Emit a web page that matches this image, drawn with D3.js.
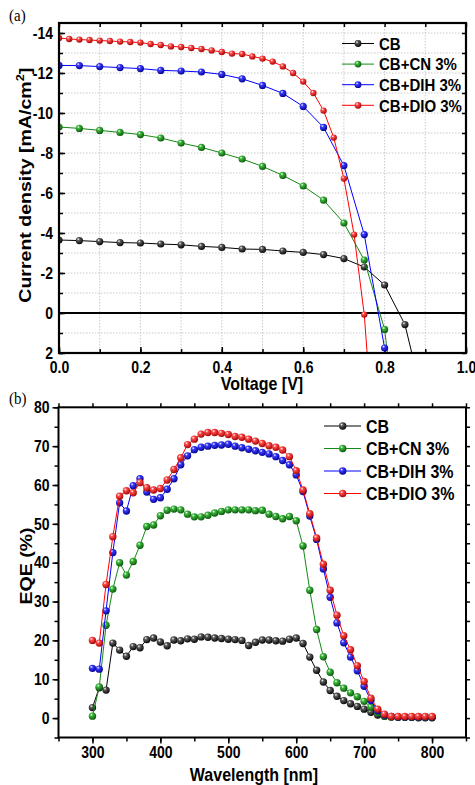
<!DOCTYPE html>
<html>
<head>
<meta charset="utf-8">
<script src="https://cdn.jsdelivr.net/npm/d3@7"></script>
<style>
  body { margin: 0; background: #fff; }
  svg text { font-family: "Liberation Sans", Arial, sans-serif; font-weight: bold; fill: #000; }
</style>
</head>
<body>
<div id="chart"></div>
<script>
// ---- Data: panel (a) J-V curves ----
const voltage05 = [0, 0.05, 0.1, 0.15, 0.2, 0.25, 0.3, 0.35, 0.4, 0.45, 0.5, 0.55, 0.6, 0.65, 0.7, 0.75, 0.8, 0.85, 0.9];
const voltage025 = [0, 0.025, 0.05, 0.075, 0.1, 0.125, 0.15, 0.175, 0.2, 0.225, 0.25, 0.275, 0.3, 0.325, 0.35, 0.375,
    0.4, 0.425, 0.45, 0.475, 0.5, 0.525, 0.55, 0.575, 0.6, 0.625, 0.65, 0.675, 0.7, 0.725, 0.75, 0.775];
const jvCB = [-3.65, -3.62, -3.57, -3.52, -3.5, -3.45, -3.41, -3.33, -3.28, -3.2, -3.18, -3.1, -3.03, -2.92, -2.72, -2.3, -1.4, 0.58, 4.8];
const jvCN = [-9.3, -9.23, -9.13, -9.03, -8.92, -8.75, -8.5, -8.28, -8.0, -7.7, -7.33, -6.88, -6.35, -5.64, -4.5, -2.65, 0.82, 9.3];
const jvDIH = [-12.38, -12.37, -12.32, -12.27, -12.22, -12.13, -12.1, -12.05, -11.93, -11.71, -11.38, -10.98, -10.33, -9.28, -7.37, -3.92, 1.75, 8];
const jvDIO = [-13.75, -13.70, -13.67, -13.65, -13.62, -13.6, -13.57, -13.55, -13.52, -13.45, -13.40, -13.33, -13.30, -13.25, -13.20, -13.13,
    -13.05, -12.97, -12.95, -12.83, -12.72, -12.57, -12.33, -12.0, -11.57, -11.0, -10.12, -8.77, -6.72, -3.92, 0.08, 6.9];
const jvXTicks = [0, 0.2, 0.4, 0.6, 0.8, 1.0];
const jvYTicks = [-14, -12, -10, -8, -6, -4, -2, 0, 2];

// ---- Data: panel (b) EQE spectra ----
const wavelength = [300, 310, 320, 330, 340, 350, 360, 370, 380, 390, 400, 410, 420, 430, 440, 450, 460, 470, 480, 490, 500,
    510, 520, 530, 540, 550, 560, 570, 580, 590, 600, 610, 620, 630, 640, 650, 660, 670, 680, 690, 700,
    710, 720, 730, 740, 750, 760, 770, 780, 790, 800];
const eqeCB = [2.7, 7.8, 7.2, 19.3, 17.5, 15.9, 18.4, 18.1, 20.2, 20.6, 19.6, 18.6, 20.1, 19.9, 20.4, 20.3, 20.9, 20.8, 20.6, 20.5, 20.3,
    20.2, 20.0, 18.7, 19.5, 20.1, 20.1, 19.9, 19.8, 20.3, 20.6, 19.2, 15.7, 12.3, 9.3, 7.1, 5.6, 4.5, 3.7, 3.0, 2.3,
    1.5, 0.8, 0.5, 0.3, 0.2, 0.2, 0.2, 0.1, 0.1, 0.1];
const eqeCN = [0.5, 8.0, 23.9, 33.2, 40.0, 36.8, 40.3, 44.5, 49.3, 49.7, 52.1, 53.5, 53.8, 53.6, 52.5, 51.8, 51.8, 52.2, 52.8, 53.2, 53.6,
    53.6, 53.6, 53.6, 53.4, 53.5, 52.5, 51.9, 51.3, 51.9, 50.8, 44.3, 32.9, 22.8, 15.8, 11.8, 9.1, 7.7, 6.5, 5.5, 4.3,
    2.8, 1.3, 0.5, 0.3, 0.2, 0.2, 0.2, 0.2, 0.2, 0.2];
const eqeDIH = [12.8, 12.6, 27.6, 42.6, 55.4, 53.3, 59.8, 61.6, 58.2, 56.3, 56.7, 58.9, 61.6, 65.2, 67.5, 69.1, 69.7, 70.0, 70.2, 70.3, 70.5,
    70.0, 69.6, 69.2, 68.8, 68.4, 68.0, 67.3, 66.3, 65.2, 62.6, 58.3, 52.0, 46.0, 38.4, 31.1, 24.5, 19.4, 15.7, 12.2, 8.2,
    4.5, 1.9, 0.8, 0.4, 0.3, 0.3, 0.3, 0.3, 0.3, 0.3];
const eqeDIO = [20.0, 19.3, 34.4, 46.7, 57.1, 58.5, 58.0, 60.6, 59.3, 58.7, 59.1, 61.3, 64.0, 67.0, 70.4, 71.8, 73.1, 73.5, 73.5, 73.3, 73.0,
    72.5, 72.3, 71.8, 71.3, 70.7, 70.1, 69.7, 69.0, 67.3, 63.7, 58.7, 52.6, 46.4, 39.6, 32.9, 26.5, 21.2, 17.6, 13.5, 9.4,
    5.1, 2.3, 1.0, 0.4, 0.4, 0.4, 0.4, 0.4, 0.4, 0.4];
const eqeXTicks = [300, 400, 500, 600, 700, 800];
const eqeYTicks = [0, 10, 20, 30, 40, 50, 60, 70, 80];

const seriesNames = ["CB", "CB+CN 3%", "CB+DIH 3%", "CB+DIO 3%"];
const seriesColors = ["#000000", "#138a13", "#0000ff", "#ff0000"];

// text in the original figure is a bit stretched vertically
const sy = 1.15;
function stretch(sel, rotated) {
    sel.style("transform-box", "fill-box")
        .style("transform-origin", "center")
        .style("transform", rotated ? `rotate(-90deg) scaleX(${sy})` : `scaleY(${sy})`);
}

const svg = d3.select("#chart").append("svg")
    .attr("width", 475)
    .attr("height", 785);

// sphere-like marker fills
const defs = svg.append("defs");
const darker = ["#000000", "#075207", "#00008a", "#a00000"];
const lighter = ["#5a5a5a", "#3cb83c", "#3a3aff", "#ff4a4a"];
seriesColors.forEach((c, i) => {
    const g = defs.append("radialGradient")
        .attr("id", "ball" + i)
        .attr("cx", "38%").attr("cy", "35%").attr("r", "70%")
        .attr("fx", "35%").attr("fy", "30%");
    g.append("stop").attr("offset", "0%").attr("stop-color", "#ffffff");
    g.append("stop").attr("offset", "28%").attr("stop-color", lighter[i]);
    g.append("stop").attr("offset", "100%").attr("stop-color", darker[i]);
});

// ================= Panel (a) =================
const xA = d3.scaleLinear().domain([0, 1.0]).range([59, 466]);
const yA = d3.scaleLinear().domain([-14.5, 2]).range([23, 353]);

defs.append("clipPath").attr("id", "clipA")
    .append("rect").attr("x", 59).attr("y", 23).attr("width", 407).attr("height", 330);

const gA = svg.append("g");

// dotted grid
gA.append("g").selectAll("line")
    .data(d3.range(1, 10).map(d => d / 10))
    .join("line")
    .attr("x1", d => xA(d)).attr("x2", d => xA(d))
    .attr("y1", 23).attr("y2", 353)
    .attr("stroke", "#bdbdbd").attr("stroke-width", 0.8).attr("stroke-dasharray", "1.5,1.5");
gA.append("g").selectAll("line")
    .data(d3.range(-14, 2))
    .join("line")
    .attr("x1", 59).attr("x2", 466)
    .attr("y1", d => yA(d)).attr("y2", d => yA(d))
    .attr("stroke", "#bdbdbd").attr("stroke-width", 0.8).attr("stroke-dasharray", "1.5,1.5");

// zero line
gA.append("line")
    .attr("x1", 59).attr("x2", 466)
    .attr("y1", yA(0)).attr("y2", yA(0))
    .attr("stroke", "#000").attr("stroke-width", 2);

// axes (inward ticks)
const minorXA = d3.range(0, 11).map(d => d / 10);
const minorYA = d3.range(-14, 3);
gA.append("g").attr("transform", "translate(0,353)")
    .call(d3.axisBottom(xA).tickValues(minorXA).tickSize(-4).tickFormat(""));
gA.append("g").attr("transform", "translate(0,23)")
    .call(d3.axisTop(xA).tickValues(minorXA).tickSize(-4).tickFormat(""));
gA.append("g").attr("transform", "translate(59,0)")
    .call(d3.axisLeft(yA).tickValues(minorYA).tickSize(-4).tickFormat(""));
gA.append("g").attr("transform", "translate(466,0)")
    .call(d3.axisRight(yA).tickValues(minorYA).tickSize(-4).tickFormat(""));

const axXA = gA.append("g").attr("transform", "translate(0,353)")
    .call(d3.axisBottom(xA).tickValues(jvXTicks).tickSize(-6).tickPadding(9).tickFormat(d3.format(".1f")));
const axYA = gA.append("g").attr("transform", "translate(59,0)")
    .call(d3.axisLeft(yA).tickValues(jvYTicks).tickSize(-6).tickPadding(6).tickFormat(d => String(d)));

[axXA, axYA].forEach(a => {
    a.selectAll("text").style("font-size", "14px").call(stretch, false);
});
gA.selectAll(".domain").remove();
gA.selectAll(".tick line").attr("stroke", "#000").attr("stroke-width", 1.5);

// series
const jvSeries = [
    voltage05.map((v, i) => ({ x: v, y: jvCB[i] })),
    voltage05.slice(0, jvCN.length).map((v, i) => ({ x: v, y: jvCN[i] })),
    voltage05.slice(0, jvDIH.length).map((v, i) => ({ x: v, y: jvDIH[i] })),
    voltage025.map((v, i) => ({ x: v, y: jvDIO[i] }))
];
const lineA = d3.line().x(d => xA(d.x)).y(d => yA(d.y));
const plotA = gA.append("g").attr("clip-path", "url(#clipA)");
jvSeries.forEach((s, i) => {
    plotA.append("path")
        .datum(s)
        .attr("d", lineA)
        .attr("fill", "none")
        .attr("stroke", seriesColors[i])
        .attr("stroke-width", 1);
    plotA.append("g").selectAll("circle")
        .data(s)
        .join("circle")
        .attr("cx", d => xA(d.x))
        .attr("cy", d => yA(d.y))
        .attr("r", i === 3 ? 3.2 : 3.6)
        .attr("fill", `url(#ball${i})`);
});

// frame
gA.append("rect")
    .attr("x", 59).attr("y", 23).attr("width", 407).attr("height", 330)
    .attr("fill", "none").attr("stroke", "#000").attr("stroke-width", 2.2);

// legend
const legA = gA.append("g");
seriesNames.forEach((name, i) => {
    const yy = 43.5 + i * 20.6;
    legA.append("line").attr("x1", 342).attr("x2", 374).attr("y1", yy).attr("y2", yy)
        .attr("stroke", seriesColors[i]).attr("stroke-width", 1);
    legA.append("circle").attr("cx", 358).attr("cy", yy).attr("r", 3.4).attr("fill", `url(#ball${i})`);
    legA.append("text").attr("x", 379).attr("y", yy + 5.5).style("font-size", "15px").text(name).call(stretch, false);
});

// labels
gA.append("text").attr("x", 262).attr("y", 389).attr("text-anchor", "middle")
    .style("font-size", "16px").text("Voltage [V]").call(stretch, false);
const yLabA = gA.append("text").attr("x", 24).attr("y", 192).attr("text-anchor", "middle").style("font-size", "17px");
yLabA.append("tspan").text("Current density [mA/cm");
yLabA.append("tspan").attr("dy", -7).style("font-size", "11px").text("2");
yLabA.append("tspan").attr("dy", 7).text("]");
yLabA.call(stretch, true);

svg.append("text").attr("x", 9).attr("y", 20)
    .style("font-family", "'Liberation Serif', 'Times New Roman', serif").style("font-weight", "normal")
    .style("font-size", "15px").text("(a)").call(stretch, false);

// ================= Panel (b) =================
const xB = d3.scaleLinear().domain([250, 850]).range([58.5, 466]);
const yB = d3.scaleLinear().domain([-5, 80]).range([737.5, 407.3]);

const gB = svg.append("g");
const minorXB = d3.range(250, 851, 50);
const minorYB = d3.range(-5, 81, 5);
gB.append("g").attr("transform", "translate(0,737.5)")
    .call(d3.axisBottom(xB).tickValues(minorXB).tickSize(4).tickFormat(""));
gB.append("g").attr("transform", "translate(0,407.3)")
    .call(d3.axisTop(xB).tickValues(minorXB).tickSize(4).tickFormat(""));
gB.append("g").attr("transform", "translate(58.5,0)")
    .call(d3.axisLeft(yB).tickValues(minorYB).tickSize(4).tickFormat(""));
gB.append("g").attr("transform", "translate(466,0)")
    .call(d3.axisRight(yB).tickValues(minorYB).tickSize(4).tickFormat(""));

const axXB = gB.append("g").attr("transform", "translate(0,737.5)")
    .call(d3.axisBottom(xB).tickValues(eqeXTicks).tickSize(6).tickPadding(4).tickFormat(d => String(d)));
const axYB = gB.append("g").attr("transform", "translate(58.5,0)")
    .call(d3.axisLeft(yB).tickValues(eqeYTicks).tickSize(6).tickPadding(3).tickFormat(d => String(d)));
[axXB, axYB].forEach(a => {
    a.selectAll("text").style("font-size", "14px").call(stretch, false);
});
gB.selectAll(".domain").remove();
gB.selectAll(".tick line").attr("stroke", "#000").attr("stroke-width", 1.5);

const eqeSeries = [eqeCB, eqeCN, eqeDIH, eqeDIO].map(vals => wavelength.map((w, i) => ({ x: w, y: vals[i] })));
const lineB = d3.line().x(d => xB(d.x)).y(d => yB(d.y));
eqeSeries.forEach((s, i) => {
    gB.append("path")
        .datum(s)
        .attr("d", lineB)
        .attr("fill", "none")
        .attr("stroke", seriesColors[i])
        .attr("stroke-width", 1);
    gB.append("g").selectAll("circle")
        .data(s)
        .join("circle")
        .attr("cx", d => xB(d.x))
        .attr("cy", d => yB(d.y))
        .attr("r", 3.7)
        .attr("fill", `url(#ball${i})`);
});

gB.append("rect")
    .attr("x", 58.5).attr("y", 407.3).attr("width", 407.5).attr("height", 330.2)
    .attr("fill", "none").attr("stroke", "#000").attr("stroke-width", 2);

const legB = gB.append("g");
seriesNames.forEach((name, i) => {
    const yy = 426 + i * 22.5;
    legB.append("line").attr("x1", 324).attr("x2", 361).attr("y1", yy).attr("y2", yy)
        .attr("stroke", seriesColors[i]).attr("stroke-width", 1);
    legB.append("circle").attr("cx", 342.7).attr("cy", yy).attr("r", 3.7).attr("fill", `url(#ball${i})`);
    legB.append("text").attr("x", 366).attr("y", yy + 6).style("font-size", "16px").text(name).call(stretch, false);
});

gB.append("text").attr("x", 254).attr("y", 780).attr("text-anchor", "middle")
    .style("font-size", "16px").text("Wavelength [nm]").call(stretch, false);
gB.append("text").attr("x", 26).attr("y", 572).attr("text-anchor", "middle")
    .style("font-size", "17px").text("EQE (%)").call(stretch, true);

svg.append("text").attr("x", 9).attr("y", 403)
    .style("font-family", "'Liberation Serif', 'Times New Roman', serif").style("font-weight", "normal")
    .style("font-size", "15px").text("(b)").call(stretch, false);
</script>
</body>
</html>
